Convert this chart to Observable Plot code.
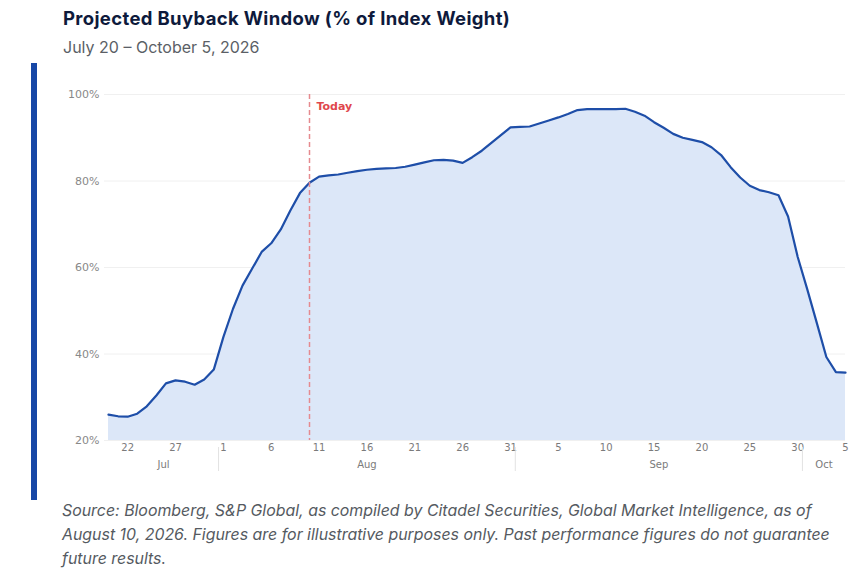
<!DOCTYPE html>
<html>
<head>
<meta charset="utf-8">
<script src="https://cdn.jsdelivr.net/npm/d3@7"></script>
<script src="https://cdn.jsdelivr.net/npm/@observablehq/plot@0.6"></script>
<style>
  html, body { margin: 0; padding: 0; background: #fff; }
  body { width: 864px; height: 571px; position: relative; overflow: hidden; font-family: Inter, "Noto Sans", sans-serif; }
  #title { position: absolute; left: 63px; top: 7px; font-size: 18.5px; font-weight: 700; color: #0e1a3c; letter-spacing: 0.35px; white-space: nowrap; }
  #subtitle { position: absolute; left: 63px; top: 37px; font-size: 16px; color: #5b5f66; white-space: nowrap; }
  #bar { position: absolute; left: 31px; top: 63px; width: 6px; height: 437px; background: #1747a6; }
  #chart { position: absolute; left: 0; top: 63px; }
  #caption { position: absolute; left: 62px; top: 499px; width: 790px; font-size: 15.9px; line-height: 24px; font-style: italic; color: #555a61; }
</style>
</head>
<body>
<div id="title">Projected Buyback Window (% of Index Weight)</div>
<div id="subtitle">July 20 – October 5, 2026</div>
<div id="chart"></div>
<div id="bar"></div>
<div id="caption">Source: Bloomberg, S&amp;P Global, as compiled by Citadel Securities, Global Market Intelligence, as of August 10, 2026. Figures are for illustrative purposes only. Past performance figures do not guarantee future results.</div>
<script>
// Daily series, July 20 – October 5, 2026 (% of index weight in buyback window)
const startDate = "2026-07-20";
const values = [
  26.0, 25.6, 25.5, 26.2, 27.9, 30.4, 33.2, 33.9, 33.6, 32.9, 34.1, 36.4, // Jul 20-31
  43.9, 50.4, 55.8, 59.7, 63.6, 65.6, 68.8, 73.2, 77.2, 79.6,             // Aug 1-10
  81.0, 81.3, 81.5, 81.9, 82.3, 82.6, 82.8, 82.9, 83.0, 83.3,             // Aug 11-20
  83.8, 84.3, 84.8, 84.9, 84.7, 84.2, 85.5, 87.0, 88.8, 90.6, 92.4,       // Aug 21-31
  92.5, 92.6, 93.3, 94.0, 94.7, 95.5, 96.4, 96.6, 96.6, 96.6,             // Sep 1-10
  96.6, 96.7, 96.0, 95.1, 93.6, 92.3, 90.9, 90.0, 89.5, 89.0,             // Sep 11-20
  87.8, 86.0, 83.2, 80.8, 78.9, 77.9, 77.4, 76.7, 71.8, 62.5,             // Sep 21-30
  55.0, 47.2, 39.3, 35.8, 35.7                                            // Oct 1-5
];
const todayDate = "2026-08-10";
const yTicks = [20, 40, 60, 80, 100];
const dayTickDates = ["2026-07-22","2026-07-27","2026-08-01","2026-08-06","2026-08-11","2026-08-16","2026-08-21","2026-08-26","2026-08-31","2026-09-05","2026-09-10","2026-09-15","2026-09-20","2026-09-25","2026-09-30","2026-10-05"];
const monthNames = ["Jul", "Aug", "Sep", "Oct"];
const monthStarts = ["2026-07-20", "2026-08-01", "2026-09-01", "2026-10-01"];
const endDate = "2026-10-05";

const DAY = 864e5;
const parse = s => new Date(s + "T00:00:00Z");
const t0 = parse(startDate);
const data = values.map((v, i) => ({date: new Date(+t0 + i * DAY), value: v}));
const tEnd = parse(endDate);
const starts = monthStarts.map(parse);
// month separators sit half a day before each month's first day
const separators = starts.slice(1).map(d => new Date(+d - DAY / 2));
// month label positions: centre of each month's visible span
const monthMid = starts.map((d, i) => {
  const a = i === 0 ? d : new Date(+d - DAY / 2);
  const b = i < starts.length - 1 ? new Date(+starts[i + 1] - DAY / 2) : tEnd;
  return {date: new Date((+a + +b) / 2), name: monthNames[i]};
});
const yMin = yTicks[0];

const chart = Plot.plot({
  width: 864,
  height: 437,
  marginLeft: 108,
  marginRight: 19,
  marginTop: 31,
  marginBottom: 60,
  style: {fontFamily: "'DejaVu Sans', sans-serif", background: "transparent"},
  x: {type: "utc", domain: [t0, tEnd]},
  y: {domain: [yTicks[0], yTicks[yTicks.length - 1]]},
  marks: [
    Plot.gridY(yTicks, {stroke: "#f0f0f0", strokeOpacity: 1, strokeWidth: 1, insetLeft: -4}),
    Plot.areaY(data, {x: "date", y1: yMin, y2: "value", fill: "#dce7f8"}),
    Plot.lineY(data, {x: "date", y: "value", stroke: "#1e4ea8", strokeWidth: 2.2, strokeLinejoin: "round"}),
    Plot.ruleX([parse(todayDate)], {stroke: "#e58a8f", strokeWidth: 1.5, strokeDasharray: "5,3"}),
    Plot.text([parse(todayDate)], {x: d => d, frameAnchor: "top", text: () => "Today", textAnchor: "start", dx: 7, dy: 8, fill: "#e0474d", fontWeight: "bold", fontSize: 11}),
    Plot.axisY(yTicks, {tickSize: 0, tickPadding: 9, tickFormat: d => d + "%", fontSize: 11, fill: "#888", label: null}),
    Plot.axisX(dayTickDates.map(parse), {tickSize: 0, tickPadding: 3, tickFormat: d => String(d.getUTCDate()), fontSize: 10, fill: "#7b7b7b", label: null}),
    Plot.axisX(separators, {tickSize: 24, tickFormat: () => "", stroke: "#e2e2e2", strokeOpacity: 1, dy: 7, label: null}),
    Plot.text(monthMid, {x: "date", frameAnchor: "bottom", text: "name", dy: 27, fontSize: 10, fill: "#7b7b7b"})
  ]
});
document.getElementById("chart").appendChild(chart);
</script>
</body>
</html>
